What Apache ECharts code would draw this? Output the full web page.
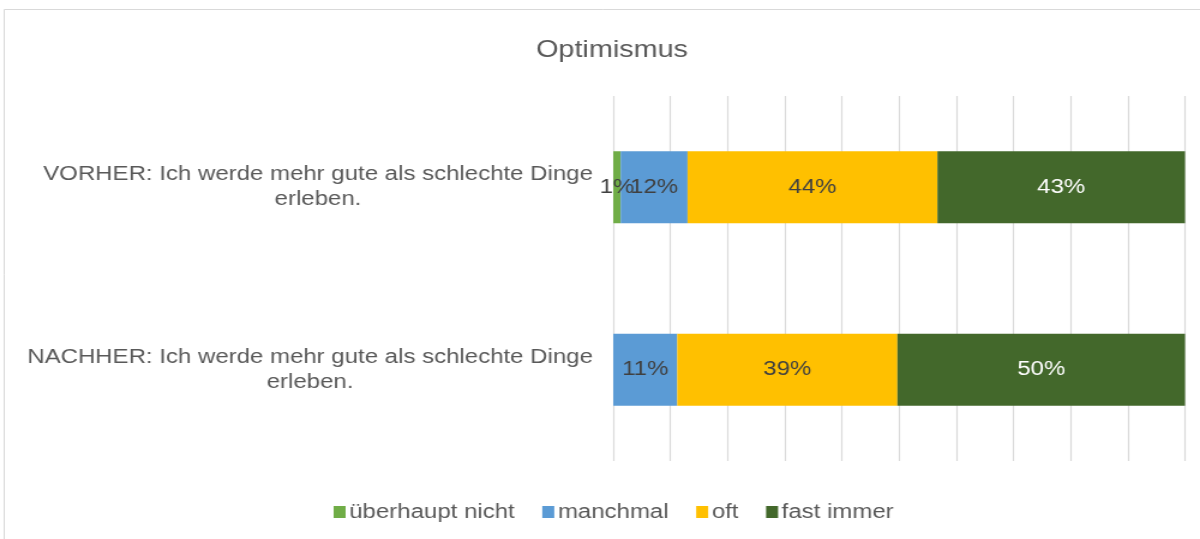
<!DOCTYPE html>
<html>
<head>
<meta charset="utf-8">
<style>
  html, body { margin: 0; padding: 0; background: #fff; overflow: hidden; }
  /* the reference is stretched horizontally by ~1.2, so draw at 1000px and widen */
  #chart { width: 1000px; height: 539px; transform: scaleX(1.2); transform-origin: 0 0; }
</style>
<script src="https://cdn.jsdelivr.net/npm/echarts@6/dist/echarts.min.js"></script>
</head>
<body>
<div id="chart"></div>
<script>
/* ---------- Daten ---------- */
const categories = [
    "VORHER: Ich werde mehr gute als schlechte Dinge\nerleben.",
    "NACHHER: Ich werde mehr gute als schlechte Dinge\nerleben."
];
const seriesNames = ["überhaupt nicht", "manchmal", "oft", "fast immer"];
const ueberhauptNicht = [1.3, 0];
const manchmal        = [11.7, 11.2];
const oft             = [43.7, 38.5];
const fastImmer       = [43.3, 50.3];

const colors = ["#70AD47", "#5B9BD5", "#FFC000", "#43682B"];
const labelColors = ["#404040", "#404040", "#404040", "#ffffff"];
const FONT = "'Liberation Sans', Arial, sans-serif";

const chart = echarts.init(document.getElementById("chart"));

const values = [ueberhauptNicht, manchmal, oft, fastImmer];

chart.setOption({
    animation: false,
    textStyle: { fontFamily: FONT },
    title: {
        text: "Optimismus",
        left: 505,
        top: 33,
        textAlign: "center",
        textStyle: { fontFamily: FONT, fontSize: 24, fontWeight: "normal", color: "#595959" }
    },
    legend: {
        data: seriesNames,
        left: 273,
        top: 497,
        itemWidth: 10,
        itemHeight: 12,
        itemGap: 23,
        icon: "rect",
        textStyle: { fontFamily: FONT, fontSize: 20, color: "#595959", padding: [0, 0, 0, -2] }
    },
    grid: { left: 511, right: 12.5, top: 96, bottom: 78, containLabel: false },
    xAxis: {
        type: "value",
        min: 0,
        max: 100,
        interval: 10,
        axisLabel: { show: false },
        axisLine: { show: false },
        axisTick: { show: false },
        splitLine: { lineStyle: { color: "#d9d9d9", width: 1.2 } }
    },
    yAxis: {
        type: "category",
        data: categories,
        inverse: true,
        axisLine: { show: false },
        axisTick: { show: false },
        axisLabel: {
            align: "right",
            margin: 17,
            formatter: (v) => v.split("\n").map((l) => "{c|" + l + "}").join("\n"),
            rich: {
                c: {
                    align: "center",
                    fontFamily: FONT,
                    fontSize: 20,
                    lineHeight: 25,
                    color: "#595959"
                }
            }
        }
    },
    graphic: [{
        type: "rect",
        shape: { x: 3.5, y: 9.5, width: 1010, height: 560 },
        style: { fill: "none", stroke: "#d9d9d9", lineWidth: 1 },
        silent: true
    }],
    series: seriesNames.map((name, i) => ({
        name: name,
        type: "bar",
        stack: "total",
        barWidth: 72,
        data: values[i],
        itemStyle: { color: colors[i] },
        label: {
            show: true,
            position: "inside",
            fontFamily: FONT,
            fontSize: 20,
            color: labelColors[i],
            formatter: (p) => p.value > 0 ? Math.round(p.value) + "%" : ""
        }
    }))
});
</script>
</body>
</html>
